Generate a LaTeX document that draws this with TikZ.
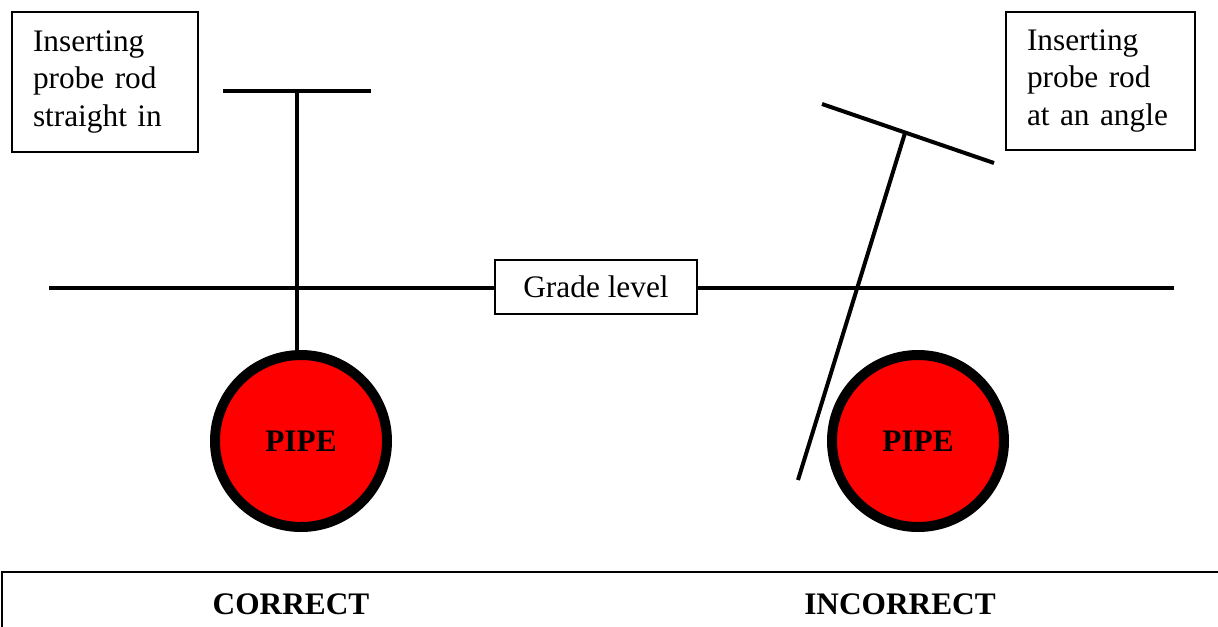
\documentclass[tikz,border=0pt]{standalone}
\usepackage{fontspec}
\setmainfont{Liberation Serif}

\begin{document}
\begin{tikzpicture}[x=0.75pt,y=-0.75pt,
  rod/.style={line width=3pt},
  notebox/.style={draw,line width=1.1pt,align=left,inner xsep=15.75pt,font=\fontsize{23.5}{27.8}\selectfont},
  pipe/.style={circle,draw,line width=7.5pt,fill=red,minimum size=129pt,inner sep=0pt,font=\fontsize{23.5}{27.8}\selectfont\bfseries},
  verdict/.style={font=\fontsize{23.5}{27.8}\selectfont\bfseries}]
\useasboundingbox (0,0) rectangle (1218,626);

% Notes
\node[notebox,text width=108pt,minimum height=105pt] (notestraight) at (105,82) {Inserting\\probe rod\\straight in};
\node[notebox,text width=110.25pt,minimum height=103.5pt] (noteangle) at (1100.5,81) {Inserting\\probe rod\\at an angle};

% Grade level
\node[draw,line width=1.1pt,minimum width=151.5pt,minimum height=40.5pt,font=\fontsize{23.5}{27.8}\selectfont] (grade) at (596,287) {Grade level};
\coordinate (gradeleft) at (49,288);
\coordinate (graderight) at (1174,288);
\draw[rod] (gradeleft) -- (gradeleft -| grade.west);
\draw[rod] (graderight -| grade.east) -- (graderight);

% Pipes
\node[pipe] (pipeleft) at (301,441) {PIPE};
\node[pipe] (piperight) at (918,441) {PIPE};

% Straight probe
\coordinate (leftbarA) at (223,91);
\coordinate (leftbarB) at (371,91);
\coordinate (lefthandle) at (297,91);
\draw[rod] (leftbarA) -- (leftbarB);
\draw[rod] (lefthandle) -- (lefthandle |- pipeleft.north);

% Angled probe
\coordinate (rightbarA) at (822,104);
\coordinate (rightbarB) at (994,163);
\coordinate (righthandle) at (905,133);
\coordinate (righttip) at (798,480);
\draw[rod] (rightbarA) -- (rightbarB);
\draw[rod] (righthandle) -- (righttip);

% Verdict strip
\begin{scope}
\clip (0,0) rectangle (1218,626);
\draw[line width=1.5pt] (2,572) rectangle (1240,660);
\end{scope}
\node[verdict] (correct) at (291,604) {CORRECT};
\node[verdict] (incorrect) at (900,604) {INCORRECT};

\end{tikzpicture}
\end{document}
